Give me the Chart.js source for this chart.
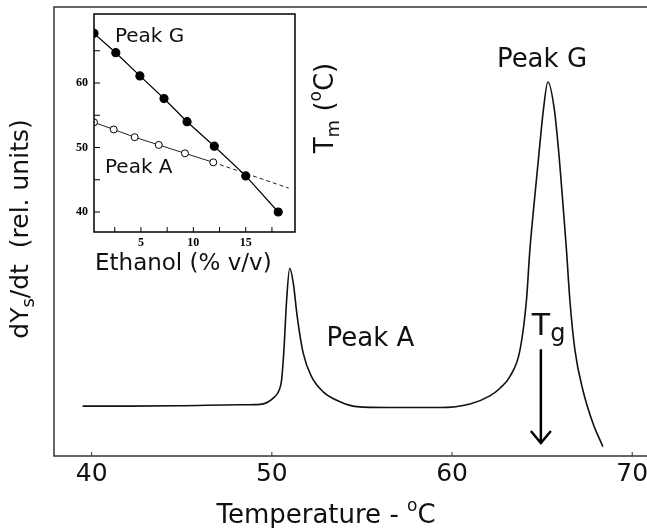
<!DOCTYPE html>
<html>
<head>
<meta charset="utf-8">
<title>DSC peaks</title>
<script src="https://cdn.jsdelivr.net/npm/chart.js@4.4.0/dist/chart.umd.min.js"></script>
<style>
  body { margin: 0; background: #fff; }
  #wrap { position: relative; width: 647px; height: 528px; }
  #mainChart { position: absolute; left: 0; top: 0; }
  #insetChart { position: absolute; left: 50px; top: 0; }
</style>
</head>
<body>
<div id="wrap">
  <canvas id="mainChart" width="647" height="528"></canvas>
  <canvas id="insetChart" width="300" height="280"></canvas>
</div>
<script>
// main curve: dYs/dt (rel. units) vs temperature
const temperature = [39.5, 42, 45, 48.23, 49.34, 50.08, 50.41, 50.54, 50.67, 50.82, 50.99, 51.19, 51.41, 51.74,
  52.21, 52.85, 53.78, 54.71, 56.5, 59.33, 61.0, 62.1, 62.66, 63.21, 63.77, 64.13, 64.32, 64.52, 64.79, 65.07,
  65.32, 65.68, 65.96, 66.18, 66.35, 66.54, 66.82, 67.26, 67.82, 68.37];
const signal = [11.1, 11.1, 11.2, 11.4, 11.5, 12.9, 14.7, 16.9, 23.6, 34.7, 41.8, 38.5, 31.0, 22.9,
  17.6, 14.3, 12.1, 11.0, 10.8, 10.8, 11.6, 13.4, 15.1, 17.7, 23.6, 34.7, 45.9, 54.8, 65.9, 77.1,
  83.3, 77.1, 65.9, 54.8, 45.9, 34.7, 23.6, 14.7, 7.3, 2.1];
const tempTicks = [40, 50, 60, 70];

// inset: Tm of both peaks vs ethanol content
const ethanolG = [0.52, 2.6, 4.9, 7.2, 9.4, 12.0, 15.0, 18.1];
const tmPeakG = [67.7, 64.7, 61.1, 57.6, 54.0, 50.2, 45.6, 40.0];
const ethanolA = [0.52, 2.4, 4.4, 6.7, 9.2, 11.9];
const tmPeakA = [53.9, 52.8, 51.6, 50.4, 49.1, 47.7];
const ethanolAFit = [11.9, 19.1];
const tmAFit = [47.7, 43.7];
const ethanolTicks = [2.5, 5, 7.5, 10, 12.5, 15, 17.5];
const tmTicks = [40, 45, 50, 55, 60, 65];

// annotation anchors in data units
const tgArrow = { t: 64.93, from: 23.8, to: 2.9 };

Chart.defaults.font.family = '"DejaVu Sans"';
Chart.defaults.color = '#111';

function toPoints(xs, ys) {
  return xs.map((v, i) => ({ x: v, y: ys[i] }));
}

// draws text pieces one after the other (for sub/superscripts)
function drawRich(ctx, parts, x, y, center) {
  let w = 0;
  parts.forEach(p => {
    ctx.font = p[1] + 'px "DejaVu Sans"';
    w += ctx.measureText(p[0]).width;
  });
  let cx = center ? x - w / 2 : x;
  parts.forEach(p => {
    ctx.font = p[1] + 'px "DejaVu Sans"';
    ctx.fillText(p[0], cx, y + p[2]);
    cx += ctx.measureText(p[0]).width;
  });
}

const mainDecor = {
  id: 'mainDecor',
  afterDraw(chart) {
    const { ctx, chartArea: a, scales: { x, y } } = chart;
    ctx.save();
    ctx.strokeStyle = '#333';
    ctx.lineWidth = 1.5;
    ctx.beginPath();
    ctx.moveTo(chart.width, a.top);
    ctx.lineTo(a.left, a.top);
    ctx.lineTo(a.left, a.bottom);
    ctx.lineTo(chart.width, a.bottom);
    ctx.stroke();

    ctx.lineWidth = 1;
    tempTicks.forEach(t => {
      const px = x.getPixelForValue(t);
      ctx.beginPath();
      ctx.moveTo(px, a.bottom);
      ctx.lineTo(px, a.bottom - 4);
      ctx.stroke();
    });

    // Tg arrow
    const ax = x.getPixelForValue(tgArrow.t);
    const y0 = y.getPixelForValue(tgArrow.from);
    const y1 = y.getPixelForValue(tgArrow.to);
    ctx.strokeStyle = '#000';
    ctx.lineWidth = 2.5;
    ctx.beginPath();
    ctx.moveTo(ax, y0);
    ctx.lineTo(ax, y1);
    ctx.moveTo(ax - 10, y1 - 12);
    ctx.lineTo(ax, y1);
    ctx.lineTo(ax + 10, y1 - 12);
    ctx.stroke();

    ctx.fillStyle = '#111';
    ctx.textAlign = 'left';
    ctx.textBaseline = 'alphabetic';
    drawRich(ctx, [['Peak G', 26, 0]], x.getPixelForValue(64.99), y.getPixelForValue(86.6), true);
    drawRich(ctx, [['Peak A', 26, 0]], x.getPixelForValue(55.47), y.getPixelForValue(24.5), true);
    drawRich(ctx, [['T', 30, 0], ['g', 24, 6]], x.getPixelForValue(64.43), y.getPixelForValue(26.9), false);

    // axis titles
    drawRich(ctx, [['Temperature - ', 26, 0], ['o', 17, -12], ['C', 26, 0]], 326, 523, true);
    ctx.translate(28, 229);
    ctx.rotate(-Math.PI / 2);
    drawRich(ctx, [['dY', 25, 0], ['s', 18, 6], ['/dt  (rel. units)', 25, 0]], 0, 0, true);
    ctx.restore();
  }
};

const insetDecor = {
  id: 'insetDecor',
  afterDraw(chart) {
    const { ctx, chartArea: a, scales: { x, y } } = chart;
    ctx.save();
    ctx.strokeStyle = '#000';
    ctx.lineWidth = 1.5;
    ctx.strokeRect(a.left, a.top, a.right - a.left, a.bottom - a.top);
    ctx.lineWidth = 1;
    ethanolTicks.forEach(v => {
      const px = x.getPixelForValue(v);
      ctx.beginPath();
      ctx.moveTo(px, a.bottom);
      ctx.lineTo(px, a.bottom - 5);
      ctx.stroke();
    });
    tmTicks.forEach(v => {
      const py = y.getPixelForValue(v);
      ctx.beginPath();
      ctx.moveTo(a.left, py);
      ctx.lineTo(a.left + 6, py);
      ctx.stroke();
    });

    ctx.fillStyle = '#111';
    ctx.textAlign = 'left';
    ctx.textBaseline = 'alphabetic';
    drawRich(ctx, [['Peak G', 20, 0]], x.getPixelForValue(2.52), y.getPixelForValue(66.36), false);
    drawRich(ctx, [['Peak A', 20, 0]], x.getPixelForValue(1.57), y.getPixelForValue(46.05), false);
    drawRich(ctx, [['Ethanol (% v/v)', 23, 0]], 45, 270, false);

    ctx.translate(283, 108);
    ctx.rotate(-Math.PI / 2);
    drawRich(ctx, [['T', 26, 0], ['m', 18, 6], [' (', 26, 0], ['o', 17, -12], ['C)', 26, 0]], 0, 0, true);
    ctx.restore();
  }
};

new Chart(document.getElementById('mainChart'), {
  type: 'scatter',
  data: {
    datasets: [{
      data: toPoints(temperature, signal),
      showLine: true,
      pointRadius: 0,
      borderColor: '#111',
      borderWidth: 1.6,
      cubicInterpolationMode: 'monotone'
    }]
  },
  options: {
    responsive: false,
    animation: false,
    layout: { padding: { left: 54, top: 7, right: 0, bottom: 0 } },
    plugins: { legend: { display: false }, tooltip: { enabled: false } },
    scales: {
      x: {
        type: 'linear',
        min: 37.91,
        max: 70.82,
        afterBuildTicks: s => { s.ticks = tempTicks.map(v => ({ value: v })); },
        afterFit: s => { s.height = 72; s.paddingLeft = 0; s.paddingRight = 0; },
        grid: { display: false, drawTicks: false },
        border: { display: false },
        ticks: { font: { size: 25 }, color: '#111', padding: 3, maxRotation: 0 }
      },
      y: { display: false, min: 0, max: 100 }
    }
  },
  plugins: [mainDecor]
});

new Chart(document.getElementById('insetChart'), {
  type: 'scatter',
  data: {
    datasets: [
      {
        data: toPoints(ethanolG, tmPeakG),
        showLine: true,
        borderColor: '#000',
        borderWidth: 1.2,
        pointRadius: 4,
        pointBackgroundColor: '#000',
        pointBorderColor: '#000'
      },
      {
        data: toPoints(ethanolA, tmPeakA),
        showLine: true,
        borderColor: '#222',
        borderWidth: 1,
        pointRadius: 3.5,
        pointBackgroundColor: '#fff',
        pointBorderColor: '#000',
        pointBorderWidth: 1
      },
      {
        data: toPoints(ethanolAFit, tmAFit),
        showLine: true,
        borderColor: '#222',
        borderWidth: 1,
        borderDash: [4, 3],
        pointRadius: 0
      }
    ]
  },
  options: {
    responsive: false,
    animation: false,
    layout: { padding: { left: 0, top: 14, right: 55, bottom: 0 } },
    plugins: { legend: { display: false }, tooltip: { enabled: false } },
    scales: {
      x: {
        type: 'linear',
        min: 0.52,
        max: 19.7,
        afterBuildTicks: s => { s.ticks = ethanolTicks.map(v => ({ value: v })); },
        afterFit: s => { s.height = 48; s.paddingLeft = 0; s.paddingRight = 0; },
        grid: { display: false, drawTicks: false },
        border: { display: false },
        ticks: {
          font: { family: '"Liberation Serif"', weight: 'bold', size: 12 },
          color: '#000',
          padding: 4,
          maxRotation: 0,
          callback: v => (v % 5 === 0 ? v : '')
        }
      },
      y: {
        min: 36.9,
        max: 70.7,
        afterBuildTicks: s => { s.ticks = tmTicks.map(v => ({ value: v })); },
        afterFit: s => { s.width = 44; s.paddingTop = 0; s.paddingBottom = 0; },
        grid: { display: false, drawTicks: false },
        border: { display: false },
        ticks: {
          font: { family: '"Liberation Serif"', weight: 'bold', size: 12 },
          color: '#000',
          padding: 6,
          callback: v => (v % 10 === 0 ? v : '')
        }
      }
    }
  },
  plugins: [insetDecor]
});
</script>
</body>
</html>
